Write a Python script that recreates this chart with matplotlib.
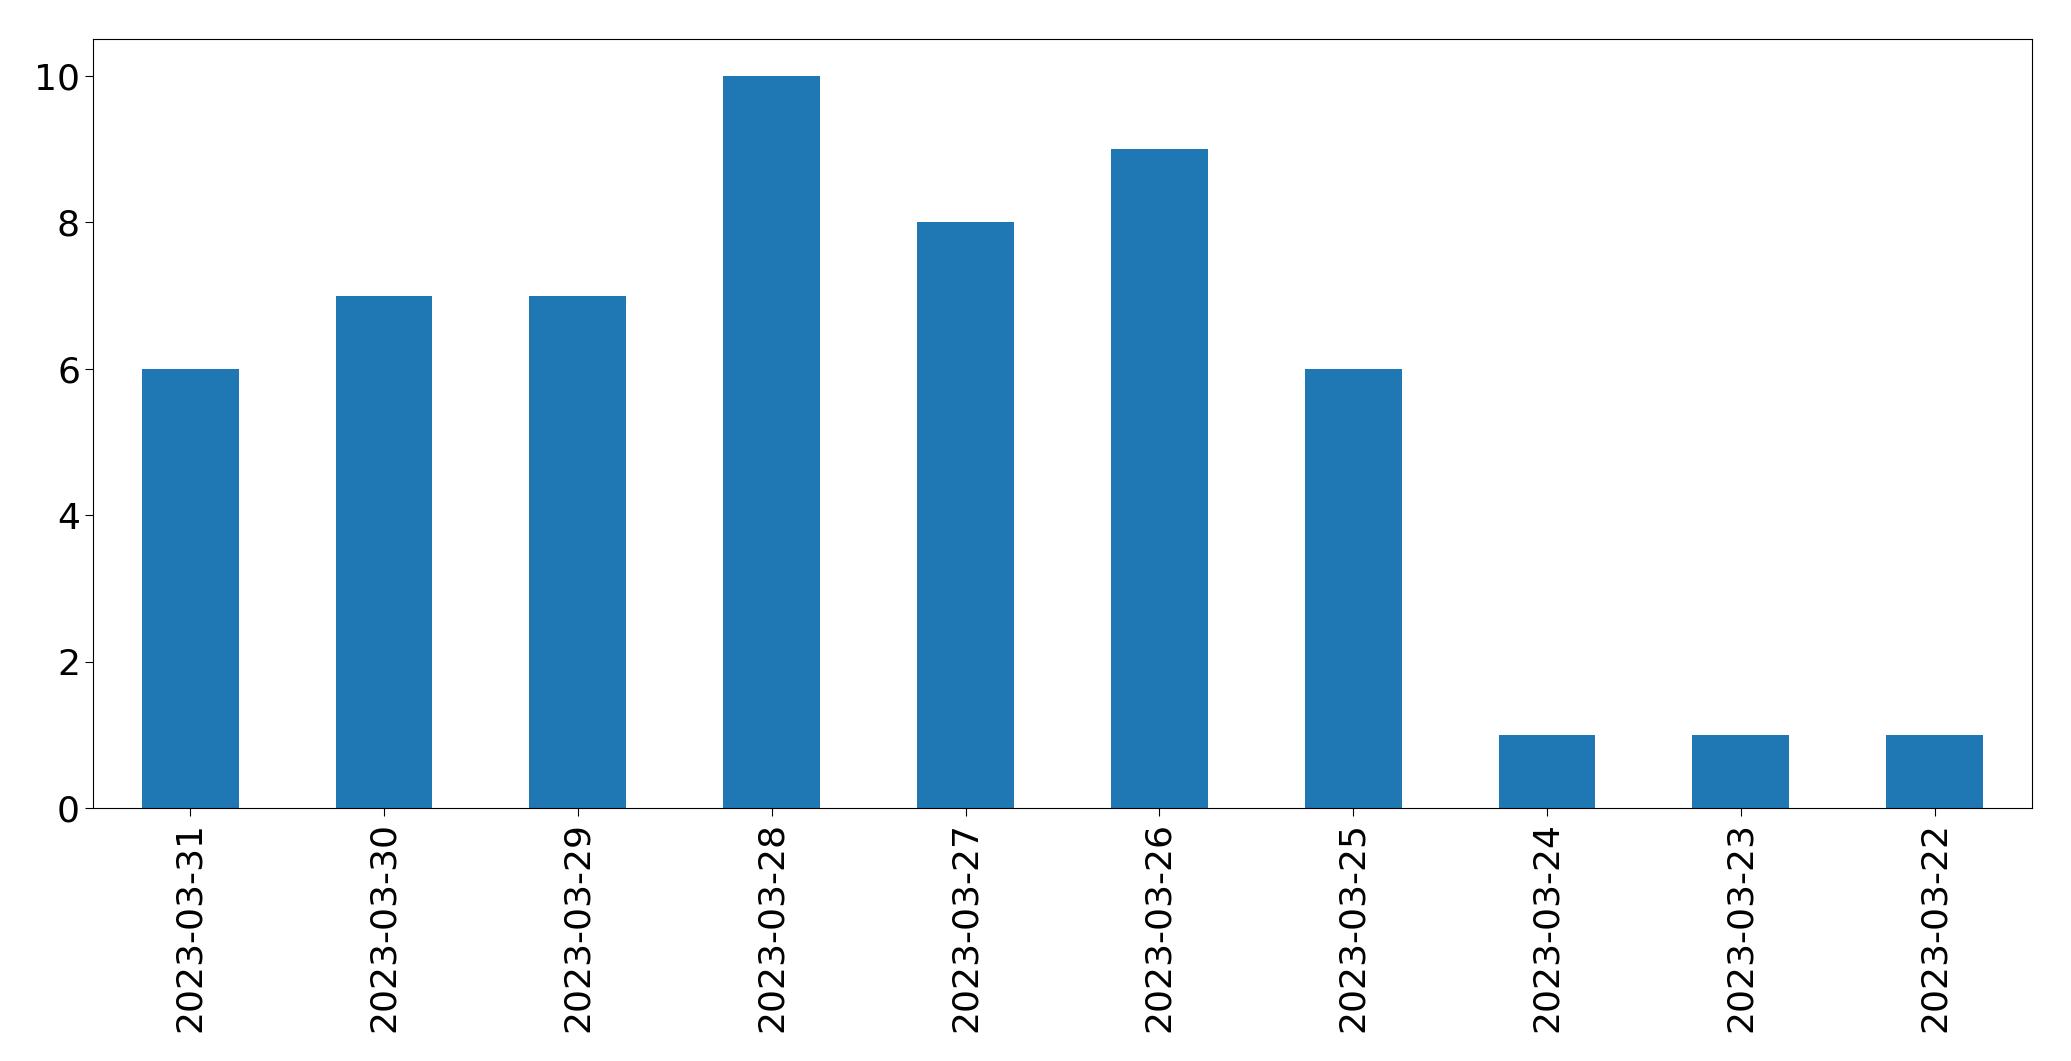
import matplotlib
matplotlib.use("Agg")
import matplotlib.pyplot as plt

dates = ["2023-03-31","2023-03-30","2023-03-29","2023-03-28","2023-03-27",
         "2023-03-26","2023-03-25","2023-03-24","2023-03-23","2023-03-22"]
counts = [6, 7, 7, 10, 8, 9, 6, 1, 1, 1]

fig = plt.figure(figsize=(20.71, 10.61), dpi=100)
ax = fig.add_axes([0.045, 0.238, 0.936, 0.725])
x = range(len(dates))
ax.bar(x, counts, width=0.5, color="#1f77b4")
ax.set_xticks(list(x))
ax.set_xticklabels(dates, rotation=90)
ax.set_xlim(-0.5, len(dates) - 0.5)
ax.set_ylim(0, 10.5)
ax.tick_params(labelsize=26, length=6)
fig.savefig("out.png", dpi=100)
